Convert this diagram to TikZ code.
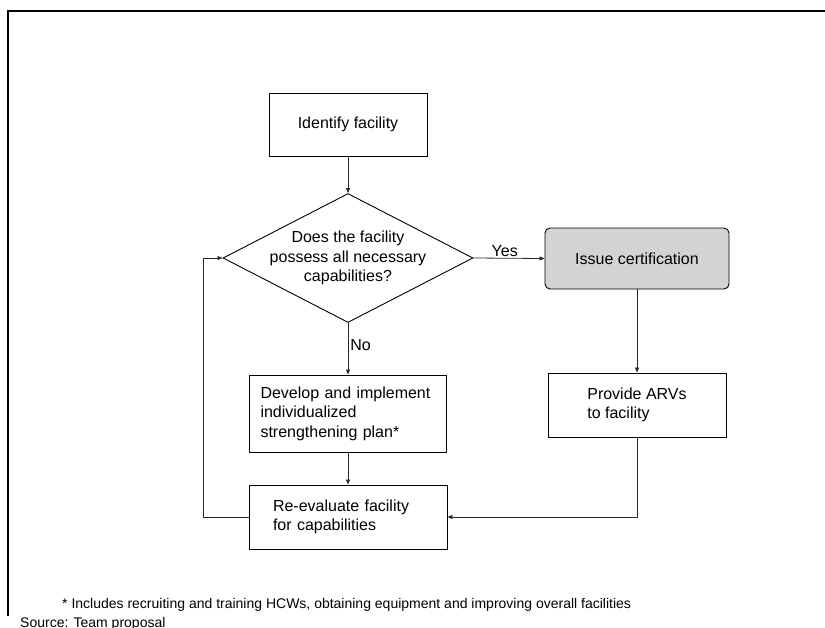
\documentclass[tikz,border=0pt]{standalone}
\usepackage{fontspec}
\setmainfont{Liberation Sans}
\usetikzlibrary{arrows.meta,shapes.geometric}
\definecolor{issuegray}{RGB}{211,211,211}
\definecolor{linegray}{RGB}{40,40,40}
\tikzset{
  boxtext/.style={font=\fontsize{16}{19.5}\selectfont},
  flowbox/.style={draw=black, line width=0.9pt, rectangle, boxtext, inner ysep=0pt},
  decision/.style={draw=black, line width=0.9pt, diamond, inner sep=0pt},
  arr/.style={draw=linegray, line width=0.8pt, -{Triangle[length=5pt,width=4pt]}},
  notetext/.style={font=\fontsize{14}{17}\selectfont, inner sep=0pt},
  frameline/.style={draw=black, line width=2pt}
}
\begin{document}
\begin{tikzpicture}[x=1pt,y=-1pt]
\useasboundingbox (0,0) rectangle (825,627);
% frame
\draw[frameline] (8,616) -- (8,11) -- (835,11);
% nodes
\node[flowbox, minimum width=158, minimum height=63, align=center] (ident) at (348,124.5) {Identify facility};
\node[decision, minimum width=250, minimum height=129,
      label={[boxtext, align=center, inner sep=0pt]center:Does the facility\\possess all necessary\\capabilities?}] (dia) at (348,258) {};
\node[flowbox, minimum width=184, minimum height=61, rounded corners=5pt, fill=issuegray, align=center] (issue) at (637,258.5) {Issue certification};
\node[flowbox, minimum width=178, minimum height=64, inner xsep=4pt, align=left] (prov) at (637,405) {Provide ARVs\\to facility};
\node[flowbox, minimum width=197, minimum height=77, inner xsep=11pt, text width=175pt, align=left] (dev) at (348,413.5) {Develop and implement\\individualized\\strengthening plan*};
\node[flowbox, minimum width=198, minimum height=64, inner xsep=24pt, text width=150pt, align=left] (reeval) at (348,517) {Re-evaluate facility\\for capabilities};
\coordinate (loopx) at (203,0);
% connectors
\draw[arr] (ident.south) -- (dia.north);
\draw[arr] (dia.east) -- node[boxtext, above, pos=0.44, inner sep=1pt] (yes) {Yes} (issue.west);
\draw[arr] (dia.south) -- node[boxtext, right, pos=0.42, inner sep=2pt] (no) {No} (dev.north);
\draw[arr] (dev.south) -- (reeval.north);
\draw[arr] (issue.south) -- (prov.north);
\draw[arr] (prov.south) |- (reeval.east);
\draw[arr] (reeval.west) -- (reeval.west -| loopx) |- (dia.west);
% notes
\node[notetext, anchor=base west] (note) at (62,608) {* Includes recruiting and training HCWs, obtaining equipment and improving overall facilities};
\node[notetext, anchor=base west] (source) at (20,627) {Source: Team proposal};
\end{tikzpicture}
\end{document}
